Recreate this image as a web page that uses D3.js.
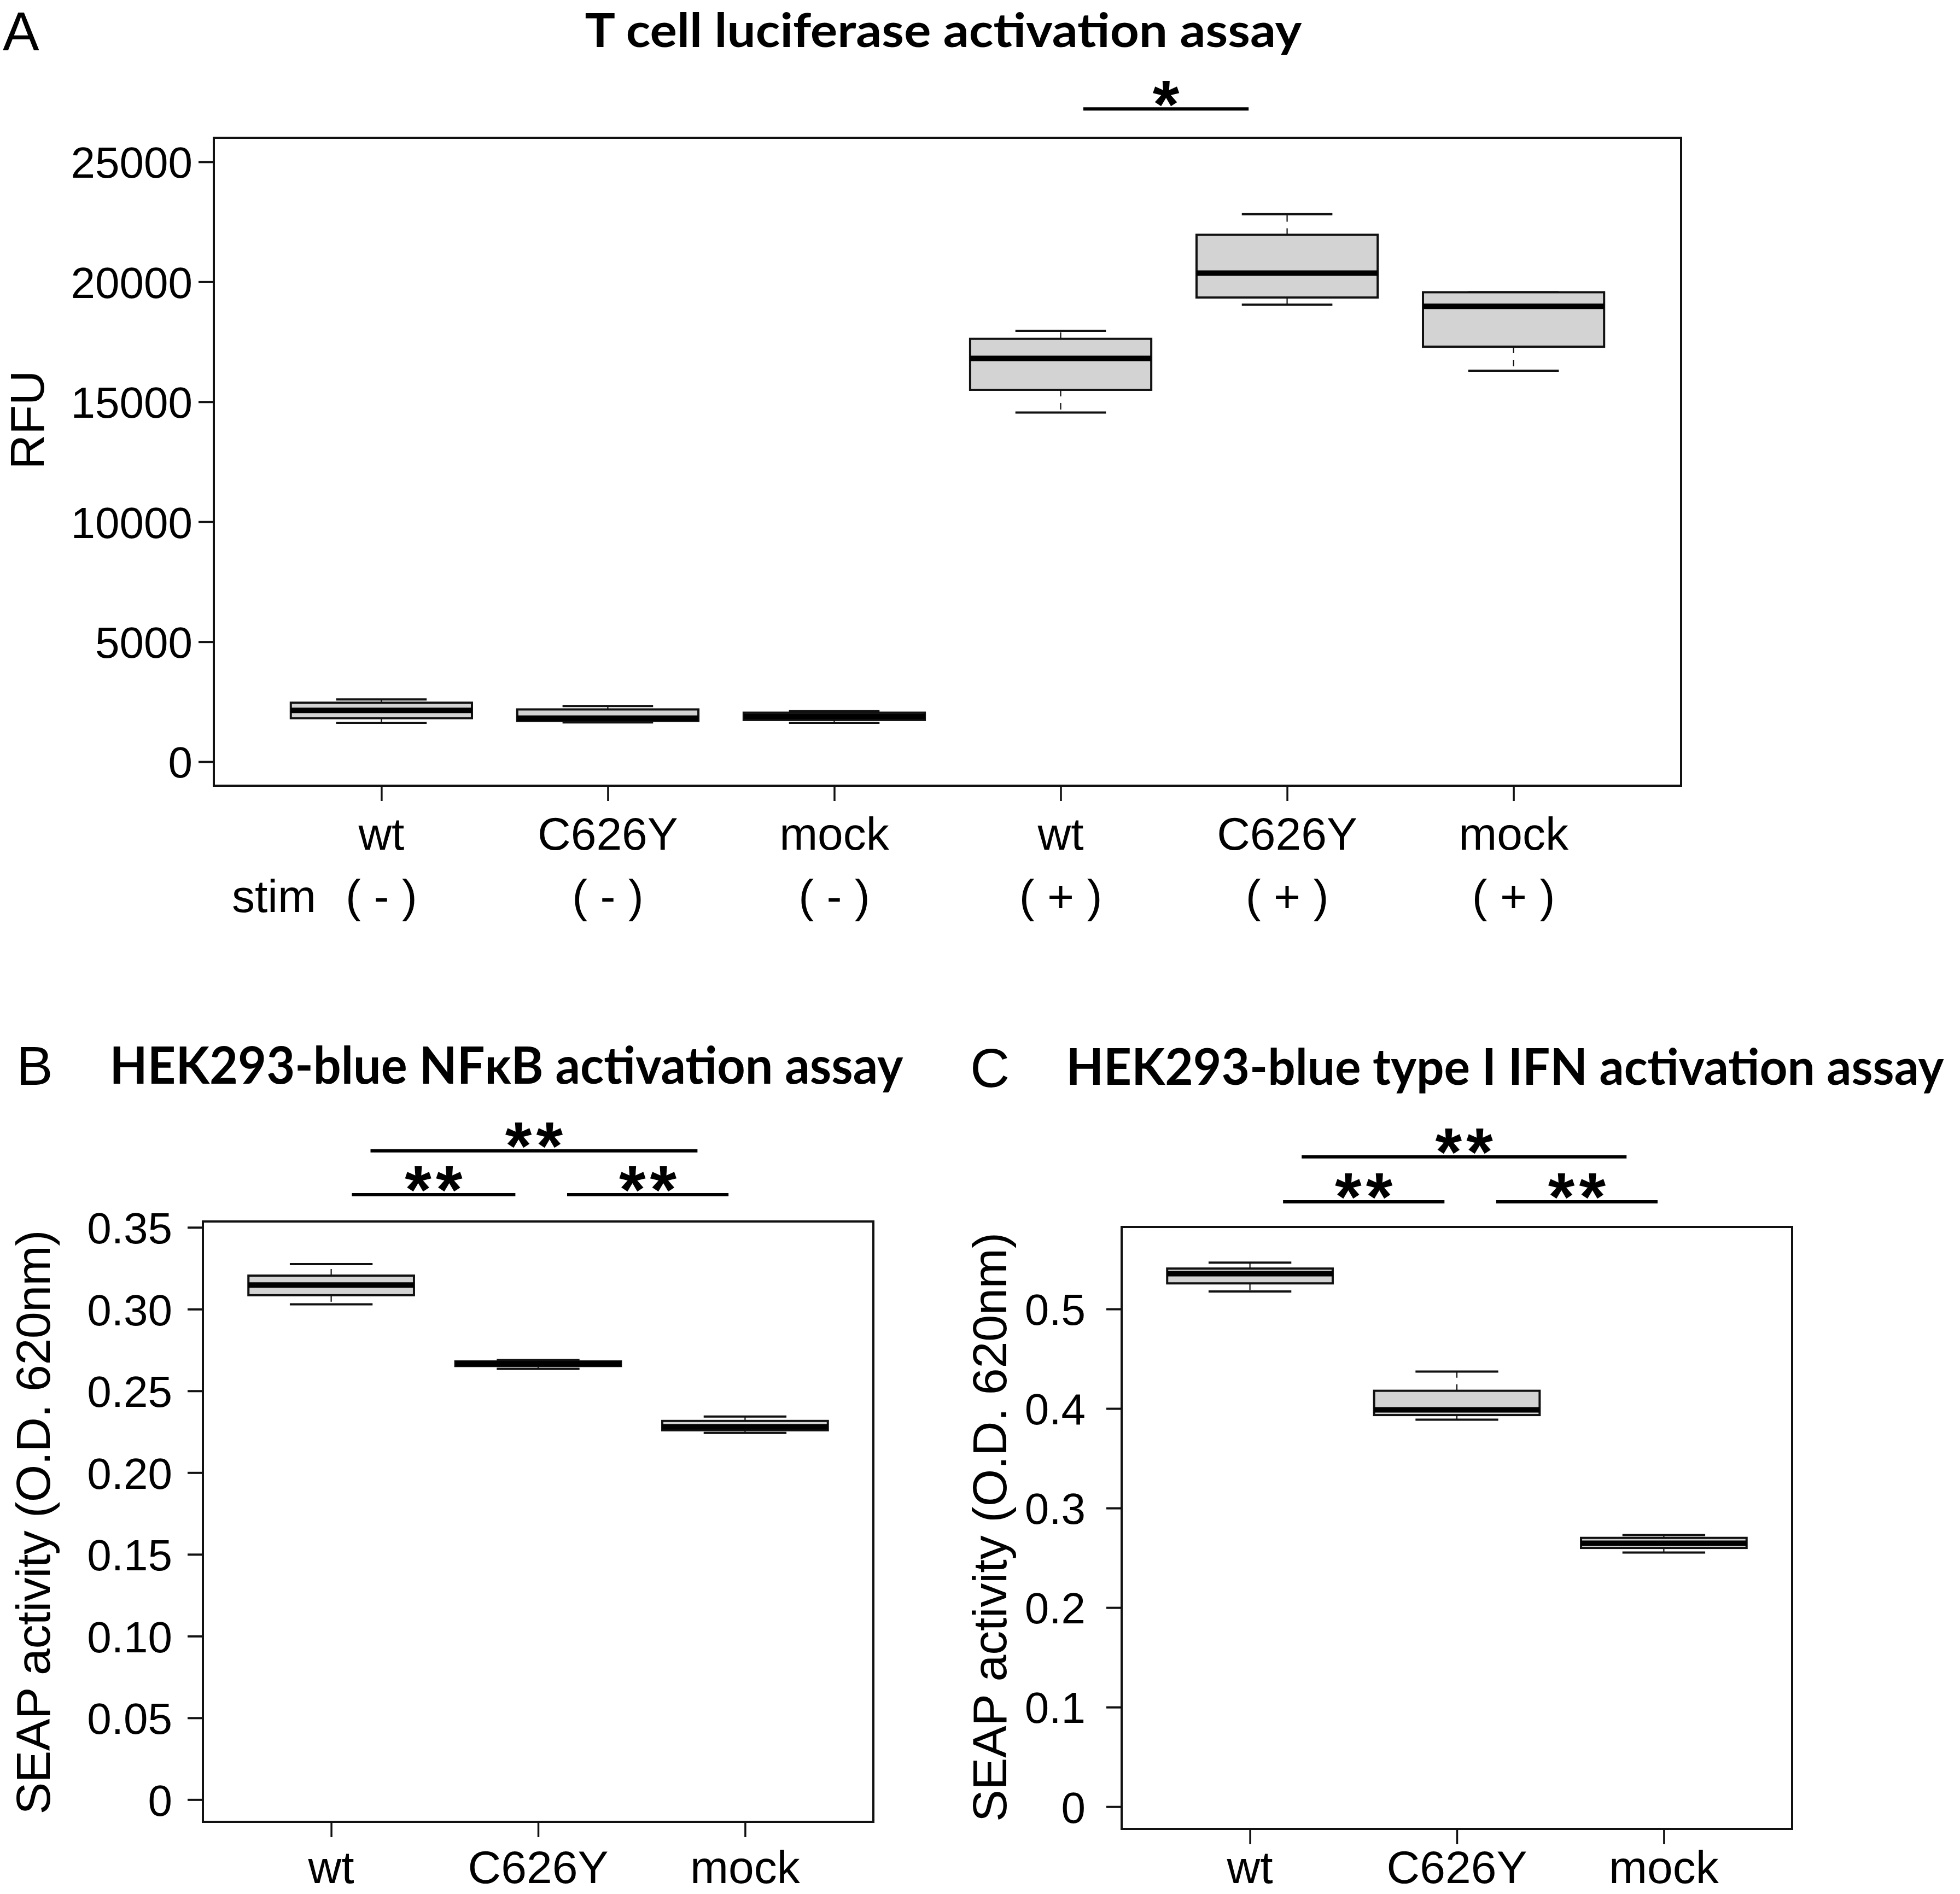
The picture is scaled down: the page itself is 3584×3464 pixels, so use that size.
<!DOCTYPE html>
<html>
<head>
<meta charset="utf-8">
<script src="https://cdn.jsdelivr.net/npm/d3@7"></script>
<style>
	body { margin: 0; background: #fff; }
	svg { display: block; }
</style>
</head>
<body>
<script>
"use strict";

// ---- panel A : T cell luciferase (RFU) ----
let aGroups = ["wt", "C626Y", "mock", "wt", "C626Y", "mock"];
let aStim = ["( - )", "( - )", "( - )", "( + )", "( + )", "( + )"];
let aLow  = [1623, 1639, 1623, 14549, 19044, 16292];
let aQ1   = [1815, 1701, 1738, 15497, 19343, 17294];
let aMed  = [2140, 1815, 1890, 16804, 20359, 18976];
let aQ3   = [2459, 2179, 2042, 17622, 21957, 19564];
let aHigh = [2596, 2322, 2102, 17959, 22813, 19564];
let aTicks = [0, 5000, 10000, 15000, 20000, 25000];
let aTickLabels = ["0", "5000", "10000", "15000", "20000", "25000"];

// ---- panel B : NFkB SEAP ----
let bGroups = ["wt", "C626Y", "mock"];
let bLow  = [0.3029, 0.2635, 0.2243];
let bQ1   = [0.3085, 0.2652, 0.2259];
let bMed  = [0.3147, 0.2666, 0.2280];
let bQ3   = [0.3205, 0.2680, 0.2316];
let bHigh = [0.3275, 0.2689, 0.2343];
let bTicks = [0, 0.05, 0.10, 0.15, 0.20, 0.25, 0.30, 0.35];
let bTickLabels = ["0", "0.05", "0.10", "0.15", "0.20", "0.25", "0.30", "0.35"];

// ---- panel C : type I IFN SEAP ----
let cGroups = ["wt", "C626Y", "mock"];
let cLow  = [0.5176, 0.3888, 0.2553];
let cQ1   = [0.5257, 0.3934, 0.2599];
let cMed  = [0.5354, 0.3987, 0.2646];
let cQ3   = [0.5406, 0.4178, 0.2700];
let cHigh = [0.5466, 0.4371, 0.2729];
let cTicks = [0, 0.1, 0.2, 0.3, 0.4, 0.5];
let cTickLabels = ["0", "0.1", "0.2", "0.3", "0.4", "0.5"];

// significance brackets (group axis units, value axis units)
let aSig = [{ from: 4.10, to: 4.83, level: 27200, label: "*" }];
let bSig = [
	{ from: 1.19, to: 2.77, level: 0.3968, label: "**" },
	{ from: 1.10, to: 1.89, level: 0.3700, label: "**" },
	{ from: 2.14, to: 2.92, level: 0.3700, label: "**" }
];
let cSig = [
	{ from: 1.25, to: 2.82, level: 0.6529, label: "**" },
	{ from: 1.16, to: 1.94, level: 0.6077, label: "**" },
	{ from: 2.19, to: 2.97, level: 0.6077, label: "**" }
];

let W = 3584, H = 3464;
let tickFont = "'Liberation Sans', Arial, sans-serif";
let titleFont = "Lato, 'Open Sans', sans-serif";
let ink = "#111";
let starSize = 125;

let svg = d3.select("body").append("svg")
	.attr("width", W)
	.attr("height", H)
	.style("background", "#fff");

function drawPanel(p) {
	let n = p.groups.length;
	// R style boxplot limits: 0.5..n+0.5 padded by 4%
	let x = d3.scaleLinear().domain([0.5 - 0.04 * n, n + 0.5 + 0.04 * n]).range([p.left, p.right]);
	let y = d3.scaleLinear().domain(p.yDomain).range([p.bottom, p.top]);

	let g = svg.append("g");

	// y axis ticks and labels
	let yAxis = d3.axisLeft(y).tickValues(p.ticks)
		.tickFormat((d, i) => p.tickLabels[i])
		.tickSize(28).tickPadding(p.labelGap - 28);
	let ya = g.append("g").attr("transform", `translate(${p.left},0)`).call(yAxis);
	ya.select(".domain").remove();
	ya.selectAll("line").attr("stroke", ink).attr("stroke-width", 4);
	ya.selectAll("text")
		.attr("font-family", tickFont)
		.attr("font-size", 80)
		.attr("fill", "#000")
		.attr("dy", "0.36em");

	// x axis ticks (labels drawn separately)
	let xAxis = d3.axisBottom(x).tickValues(d3.range(1, n + 1)).tickFormat("").tickSize(28);
	let xa = g.append("g").attr("transform", `translate(0,${p.bottom})`).call(xAxis);
	xa.select(".domain").remove();
	xa.selectAll("line").attr("stroke", ink).attr("stroke-width", 3.5);

	// frame
	g.append("rect")
		.attr("x", p.left).attr("y", p.top)
		.attr("width", p.right - p.left).attr("height", p.bottom - p.top)
		.attr("fill", "none").attr("stroke", ink).attr("stroke-width", 4);

	// boxes
	let rows = p.groups.map((d, i) => ({
		pos: i + 1, low: p.low[i], q1: p.q1[i], med: p.med[i], q3: p.q3[i], high: p.high[i]
	}));
	let box = g.selectAll(".box").data(rows).enter().append("g").attr("class", "box");

	box.append("line")
		.attr("x1", d => x(d.pos)).attr("x2", d => x(d.pos))
		.attr("y1", d => y(d.q3)).attr("y2", d => y(d.high))
		.attr("stroke", ink).attr("stroke-width", 2.2).attr("stroke-dasharray", "12,12");
	box.append("line")
		.attr("x1", d => x(d.pos)).attr("x2", d => x(d.pos))
		.attr("y1", d => y(d.q1)).attr("y2", d => y(d.low))
		.attr("stroke", ink).attr("stroke-width", 2.2).attr("stroke-dasharray", "12,12");

	["high", "low"].forEach(k => {
		box.append("line")
			.attr("x1", d => x(d.pos - 0.2)).attr("x2", d => x(d.pos + 0.2))
			.attr("y1", d => y(d[k])).attr("y2", d => y(d[k]))
			.attr("stroke", ink).attr("stroke-width", 4);
	});

	box.append("rect")
		.attr("x", d => x(d.pos - 0.4))
		.attr("width", d => x(d.pos + 0.4) - x(d.pos - 0.4))
		.attr("y", d => y(d.q3))
		.attr("height", d => y(d.q1) - y(d.q3))
		.attr("fill", "#d3d3d3").attr("stroke", ink).attr("stroke-width", 4);

	box.append("line")
		.attr("x1", d => x(d.pos - 0.4)).attr("x2", d => x(d.pos + 0.4))
		.attr("y1", d => y(d.med)).attr("y2", d => y(d.med))
		.attr("stroke", "#000").attr("stroke-width", 10);

	// group labels under the axis
	g.selectAll(".grpLabel").data(p.groups).enter().append("text")
		.attr("x", (d, i) => x(i + 1))
		.attr("y", p.labelY)
		.attr("text-anchor", "middle")
		.attr("font-family", tickFont)
		.attr("font-size", 84)
		.text(d => d);

	if (p.stim) {
		g.selectAll(".stimLabel").data(p.stim).enter().append("text")
			.attr("x", (d, i) => x(i + 1))
			.attr("y", p.stimY)
			.attr("text-anchor", "middle")
			.attr("font-family", tickFont)
			.attr("font-size", 84)
			.text(d => d);
		g.append("text")
			.attr("x", p.stimX).attr("y", p.stimY)
			.attr("font-family", tickFont).attr("font-size", 84)
			.text("stim");
	}

	// significance bars
	let sig = g.selectAll(".sig").data(p.sig).enter().append("g").attr("class", "sig");
	sig.append("line")
		.attr("x1", d => x(d.from)).attr("x2", d => x(d.to))
		.attr("y1", d => y(d.level)).attr("y2", d => y(d.level))
		.attr("stroke", "#000").attr("stroke-width", 6);
	sig.append("text")
		.attr("x", d => (x(d.from) + x(d.to)) / 2 + 4)
		.attr("y", d => y(d.level) - 37 + 0.57 * starSize)
		.attr("text-anchor", "middle")
		.attr("font-family", tickFont)
		.attr("font-weight", 700)
		.attr("font-size", starSize)
		.attr("letter-spacing", 8)
		.text(d => d.label);

	// y axis title
	g.append("text")
		.attr("transform", `translate(${p.ylabX},${p.ylabY}) rotate(-90)`)
		.attr("text-anchor", "middle")
		.attr("font-family", tickFont)
		.attr("font-size", 88)
		.attr("textLength", p.ylabLen || null)
		.attr("lengthAdjust", "spacing")
		.text(p.ylab);

	// panel title, squeezed horizontally to the width of the original (Calibri-like)
	let title = g.append("text")
		.attr("text-anchor", "middle")
		.attr("font-family", titleFont)
		.attr("font-weight", 700)
		.attr("font-size", p.titleSize)
		.text(p.title);
	let natural = title.node().getComputedTextLength();
	title.attr("transform", `translate(${p.titleX},${p.titleY}) scale(${p.titleLen / natural},1)`);

	// panel letter
	g.append("text")
		.attr("x", p.letterX).attr("y", p.letterY)
		.attr("font-family", tickFont)
		.attr("font-size", 100)
		.text(p.letter);
}

drawPanel({
	groups: aGroups, stim: aStim, low: aLow, q1: aQ1, med: aMed, q3: aQ3, high: aHigh,
	ticks: aTicks, tickLabels: aTickLabels, sig: aSig,
	left: 391, right: 3074, top: 252, bottom: 1437, yDomain: [-1000, 26000],
	labelGap: 39, labelY: 1554, stimY: 1668, stimX: 424,
	ylab: "RFU", ylabX: 80, ylabY: 768,
	title: "T cell luciferase activation assay", titleX: 1725, titleY: 86, titleSize: 86, titleLen: 1311,
	letter: "A", letterX: 5, letterY: 92
});

drawPanel({
	groups: bGroups, low: bLow, q1: bQ1, med: bMed, q3: bQ3, high: bHigh,
	ticks: bTicks, tickLabels: bTickLabels, sig: bSig,
	left: 371, right: 1597, top: 2234, bottom: 3332, yDomain: [-0.0136, 0.3536],
	labelGap: 56, labelY: 3444,
	ylab: "SEAP activity (O.D. 620nm)", ylabX: 91, ylabY: 2784, ylabLen: 1069,
	title: "HEK293-blue NF\u03baB activation assay", titleX: 926, titleY: 1982, titleSize: 94, titleLen: 1451,
	letter: "B", letterX: 30, letterY: 1984
});

drawPanel({
	groups: cGroups, low: cLow, q1: cQ1, med: cMed, q3: cQ3, high: cHigh,
	ticks: cTicks, tickLabels: cTickLabels, sig: cSig,
	left: 2051, right: 3277, top: 2244, bottom: 3345, yDomain: [-0.0224, 0.5824],
	labelGap: 66, labelY: 3444,
	ylab: "SEAP activity (O.D. 620nm)", ylabX: 1840, ylabY: 2793, ylabLen: 1078,
	title: "HEK293-blue type I IFN activation assay", titleX: 2752, titleY: 1984, titleSize: 92, titleLen: 1605,
	letter: "C", letterX: 1774, letterY: 1988
});
</script>
</body>
</html>
